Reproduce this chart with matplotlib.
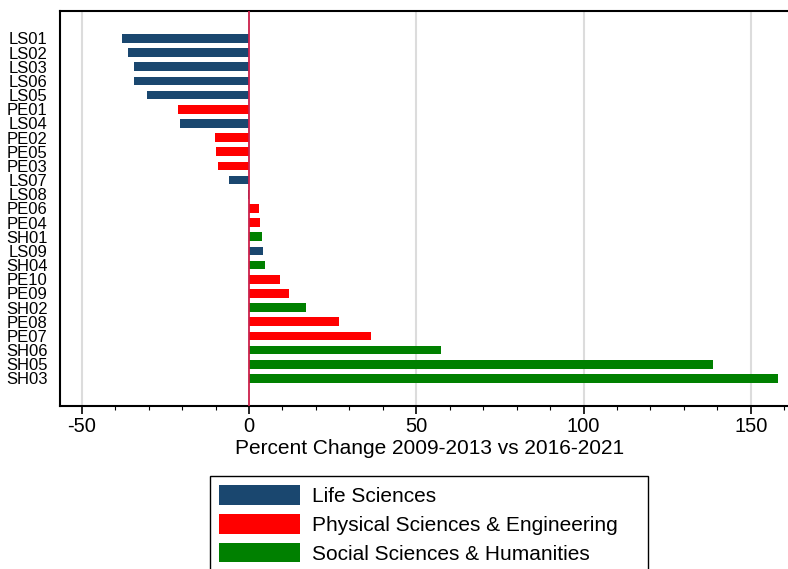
import matplotlib.pyplot as plt
from matplotlib.patches import Patch, Rectangle
from matplotlib.ticker import MultipleLocator

plt.rcParams['font.family'] = ['Liberation Sans', 'DejaVu Sans']
plt.rcParams['axes.unicode_minus'] = False

# Fields ordered from largest decline to largest growth
fields = ['LS01', 'LS02', 'LS03', 'LS06', 'LS05', 'PE01', 'LS04', 'PE02', 'PE05',
          'PE03', 'LS07', 'LS08', 'PE06', 'PE04', 'SH01', 'LS09', 'SH04', 'PE10',
          'PE09', 'SH02', 'PE08', 'PE07', 'SH06', 'SH05', 'SH03']
pct_change = [-38.0, -36.2, -34.4, -34.4, -30.5, -21.2, -20.6, -10.2, -9.9,
              -9.3, -6.0, -0.4, 3.0, 3.3, 3.9, 4.2, 4.8, 9.2,
              11.9, 17.0, 26.9, 36.5, 57.4, 138.7, 158.0]
domain_names = ['Life Sciences', 'Physical Sciences & Engineering',
                'Social Sciences & Humanities']
domain_colors = {'LS': '#1a476f', 'PE': '#ff0000', 'SH': '#008000'}

fig = plt.figure(figsize=(7.88, 5.69), dpi=100)
ax = fig.add_axes([60/788, 1-406/569, 740/788, 395/569])

colors = [domain_colors[f[:2]] for f in fields]
ypos = list(range(len(fields)))
ax.barh(ypos, pct_change, height=0.61, color=colors, zorder=3)

ax.set_xlim(-56.5, 164.7)
ax.set_ylim(len(fields) - 1 + 1.95, -1.93)

# grid lines and zero reference
for g in [-50, 50, 100, 150]:
    ax.axvline(g, color='#dcdcdc', lw=1.5, zorder=1)
ax.axvline(0, color='#cc1f4a', lw=1.3, zorder=4)

ax.set_yticks(ypos)
ax.set_yticklabels(fields, fontsize=12)
ax.tick_params(axis='y', length=0, pad=9)

ax.xaxis.set_major_locator(MultipleLocator(50))
ax.xaxis.set_minor_locator(MultipleLocator(10))
ax.tick_params(axis='x', which='major', length=6, width=1.2, labelsize=14.5, pad=2)
ax.tick_params(axis='x', which='minor', length=3, width=0.8)
ax.set_xlabel('Percent Change 2009-2013 vs 2016-2021', fontsize=15, labelpad=2)

for side in ['left', 'bottom', 'top']:
    ax.spines[side].set_linewidth(1.5)
    ax.spines[side].set_color('black')
ax.spines['right'].set_visible(False)

# legend box drawn separately so it can be wider than its contents
fig.patches.append(Rectangle((210/788, -0.05), 438/788, 1-476/569 + 0.05,
                             transform=fig.transFigure, facecolor='white',
                             edgecolor='black', lw=1.0))
handles = [Patch(facecolor=domain_colors[k]) for k in ['LS', 'PE', 'SH']]
leg = fig.legend(handles, domain_names, loc='upper left',
                 bbox_to_anchor=(210/788, 1-476/569), fontsize=15,
                 frameon=False,
                 handlelength=3.85, handleheight=1.05, labelspacing=0.39,
                 handletextpad=0.58, borderpad=0.45, borderaxespad=0)

fig.savefig('out.png', dpi=100)
